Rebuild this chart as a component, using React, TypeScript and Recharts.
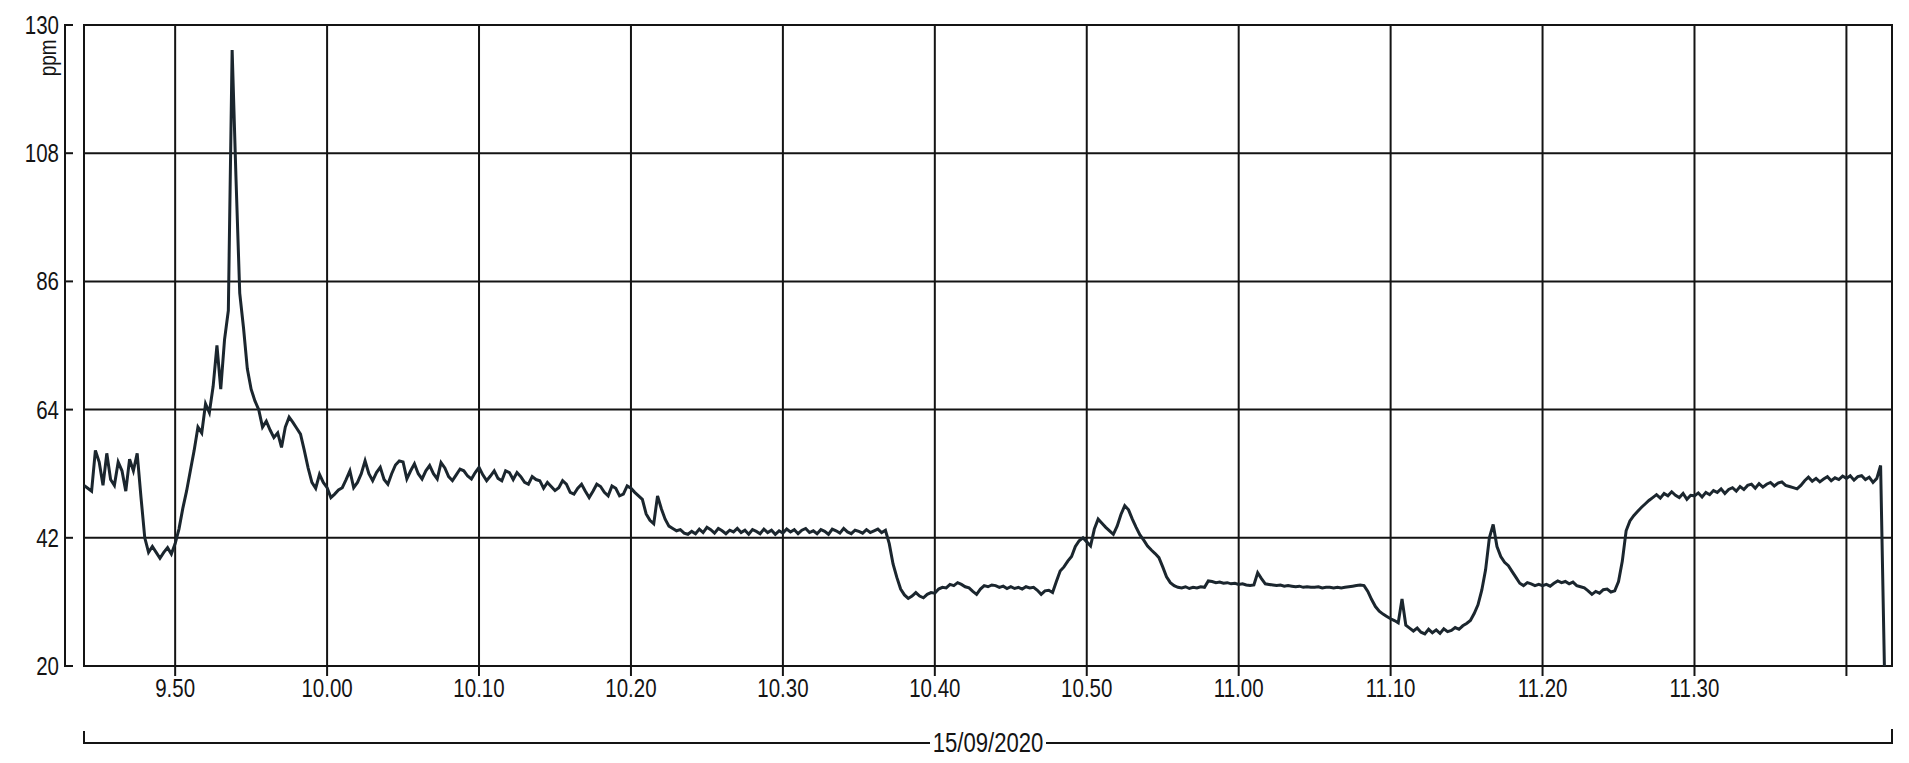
import React from 'react';
import { LineChart, Line, XAxis, YAxis, CartesianGrid, ReferenceArea } from 'recharts';

const FONT = "'Liberation Sans', Arial, sans-serif";
const INK = '#141414';
// the logger prints a condensed face: squeeze Liberation Sans horizontally
const SQUEEZE = 0.82;

// one reading every 15 s, each block starts at its own minute of the day
const STEP = 0.25;

const ppm0944 = [
  51, 50.5, 50, 57, 55, 51, 56.5, 52,
  51, 55, 53.5, 50, 55.5, 53.5, 56.5, 49,
  42, 39.5, 40.5, 39.5, 38.5, 39.5, 40.3, 39.2,
];
const ppm0950 = [
  41, 43.5, 47, 50, 53.5, 57, 61, 60,
  65, 63.5, 68, 75, 67.5, 76, 81, 125.7,
  104, 84, 78, 71, 67.5, 65.5, 64, 61,
  62, 60.5, 59.2, 60, 57.5, 61, 62.7, 61.8,
  60.8, 59.8, 57, 54, 51.5, 50.5, 52.9, 51.5,
];
const ppm1000 = [
  50.6, 48.9, 49.5, 50.2, 50.6, 52, 53.5, 50.6,
  51.5, 53, 55.2, 53, 51.8, 53.2, 54.1, 52,
  51.2, 53, 54.5, 55.2, 55, 52.1, 53.5, 54.7,
  53, 52.1, 53.5, 54.4, 53, 52.1, 54.9, 54,
  52.5, 51.8, 52.8, 53.8, 53.5, 52.6, 52.1, 53.2,
];
const ppm1010 = [
  54.1, 52.8, 51.8, 52.6, 53.5, 52.2, 51.8, 53.5,
  53.2, 52, 53.2, 52.5, 51.5, 51.2, 52.5, 52,
  51.8, 50.5, 51.5, 50.8, 50.1, 50.6, 51.8, 51.2,
  49.8, 49.5, 50.5, 51.2, 50, 48.9, 50, 51.2,
  50.8, 49.8, 49.2, 50.9, 50.5, 49.2, 49.5, 50.9,
];
const ppm1020 = [
  50.5, 49.8, 49.2, 48.6, 46.1, 45, 44.4, 49.2,
  47, 45.2, 44, 43.6, 43.2, 43.4, 42.8, 42.6,
  43.1, 42.7, 43.5, 42.9, 43.8, 43.4, 42.8, 43.6,
  43.2, 42.7, 43.3, 43, 43.6, 42.9, 43.3, 42.6,
  43.4, 43.1, 42.7, 43.5, 42.9, 43.3, 42.6, 43.2,
];
const ppm1030 = [
  42.8, 43.5, 43, 43.4, 42.7, 43.3, 43.6, 42.9,
  43.2, 42.7, 43.4, 43.1, 42.6, 43.5, 43.2, 42.8,
  43.6, 43, 42.7, 43.3, 43.1, 42.8, 43.4, 42.9,
  43.2, 43.5, 42.9, 43.3, 41, 37.5, 35.2, 33.2,
  32.2, 31.6, 32, 32.6, 32, 31.7, 32.3, 32.6,
];
const ppm1040 = [
  32.5, 33.2, 33.5, 33.4, 34, 33.8, 34.3, 34,
  33.6, 33.4, 32.8, 32.3, 33.2, 33.8, 33.6, 33.9,
  33.8, 33.5, 33.7, 33.3, 33.6, 33.3, 33.5, 33.2,
  33.6, 33.4, 33.5, 33, 32.3, 32.9, 33, 32.6,
  34.5, 36.3, 37, 38, 38.8, 40.5, 41.5, 42,
];
const ppm1050 = [
  41.3, 40.6, 43.5, 45.2, 44.5, 43.8, 43.2, 42.6,
  44, 46, 47.5, 46.8, 45.2, 43.8, 42.5, 41.6,
  40.6, 39.9, 39.3, 38.6, 37, 35.3, 34.3, 33.8,
  33.5, 33.4, 33.6, 33.3, 33.5, 33.4, 33.6, 33.5,
  34.6, 34.5, 34.3, 34.4, 34.2, 34.3, 34.1, 34.2,
];
const ppm1100 = [
  34, 34.1, 33.9, 33.8, 33.9, 36, 35, 34.1,
  34, 33.9, 33.8, 33.9, 33.7, 33.8, 33.7, 33.6,
  33.7, 33.5, 33.6, 33.5, 33.5, 33.6, 33.4, 33.5,
  33.5, 33.4, 33.5, 33.4, 33.5, 33.6, 33.7, 33.8,
  33.9, 33.8, 32.8, 31.4, 30.2, 29.4, 28.9, 28.5,
];
const ppm1110 = [
  28.1, 27.8, 27.4, 31.5, 27, 26.5, 26, 26.5,
  25.8, 25.5, 26.3, 25.7, 26.2, 25.6, 26.4, 25.9,
  26.1, 26.6, 26.3, 26.9, 27.3, 27.8, 29, 30.5,
  33, 36.5, 42, 44.3, 40.5, 38.8, 37.8, 37.2,
  36.2, 35.2, 34.2, 33.8, 34.3, 34.1, 33.8, 34,
];
const ppm1120 = [
  33.8, 34, 33.7, 34.2, 34.6, 34.3, 34.5, 34.1,
  34.4, 33.8, 33.6, 33.4, 32.9, 32.3, 32.8, 32.5,
  33.1, 33.2, 32.7, 32.9, 34.5, 38, 43.2, 44.9,
  45.8, 46.5, 47.2, 47.8, 48.4, 48.9, 49.4, 48.8,
  49.6, 49.2, 49.9, 49.3, 48.9, 49.6, 48.6, 49.3,
];
const ppm1130 = [
  49.2, 49.7, 49, 49.8, 49.4, 50.1, 49.8, 50.4,
  49.6, 50.3, 50.6, 50, 50.8, 50.3, 51, 51.2,
  50.5, 51.3, 50.7, 51.2, 51.5, 50.9, 51.4, 51.6,
  51, 50.8, 50.6, 50.4, 51, 51.8, 52.4, 51.7,
  52.2, 51.6, 52.1, 52.5, 51.8, 52.3, 52, 52.6,
  52.2, 52.65, 51.9, 52.5, 52.65, 52, 52.4, 51.5,
  52.2, 54.4, 20,
];

const blockStart = [584, 590, 600, 610, 620, 630, 640, 650, 660, 670, 680, 690];
const blocks = [
  ppm0944, ppm0950, ppm1000, ppm1010, ppm1020, ppm1030,
  ppm1040, ppm1050, ppm1100, ppm1110, ppm1120, ppm1130,
];

const xTicks = [590, 600, 610, 620, 630, 640, 650, 660, 670, 680, 690, 700];
const yTicks = [20, 42, 64, 86, 108, 130];
const dateLabel = '15/09/2020';

const readings = blocks.flatMap((values, b) =>
  values.map((ppm, i) => ({ minute: blockStart[b] + i * STEP, ppm }))
);

function clock(m: number) {
  if (m === 700) return '';
  const h = Math.floor(m / 60);
  const mm = m % 60;
  return `${h}.${mm < 10 ? '0' : ''}${mm}`;
}

function Narrow({ x, y, anchor, size = 25, children }: any) {
  return (
    <text
      transform={`translate(${x}, ${y}) scale(${SQUEEZE}, 1)`}
      textAnchor={anchor}
      fontSize={size}
      fontFamily={FONT}
      fill={INK}
      stroke="none"
    >
      {children}
    </text>
  );
}

function XTick({ x, payload }: any) {
  return <Narrow x={x} y={697} anchor="middle">{clock(payload.value)}</Narrow>;
}

function YTick({ y, payload }: any) {
  return (
    <g>
      <line x1={65} x2={73} y1={y} y2={y} stroke={INK} strokeWidth={2} />
      <Narrow x={59} y={y + 9} anchor="end">{payload.value}</Narrow>
    </g>
  );
}

function YAxisDecor({ viewBox }: any) {
  const { y, height } = viewBox;
  return (
    <g>
      <line x1={65} x2={65} y1={y - 1} y2={y + height + 1} stroke={INK} strokeWidth={2} />
      <text
        transform={`translate(56, 58) rotate(-90) scale(${SQUEEZE}, 1)`}
        textAnchor="middle"
        fontSize={23}
        fontFamily={FONT}
        fill={INK}
      >
        ppm
      </text>
    </g>
  );
}

function DateBracket({ viewBox }: any) {
  const { x, width } = viewBox;
  const cx = x + width / 2;
  const yLine = 743;
  return (
    <g fill="none" stroke={INK} strokeWidth={2}>
      <path d={`M${x},${yLine - 12} V${yLine} H${cx - 58}`} />
      <path d={`M${cx + 58},${yLine} H${x + width} V${yLine - 14}`} />
      <Narrow x={cx} y={yLine + 9} anchor="middle" size={27}>{dateLabel}</Narrow>
    </g>
  );
}

export default function App() {
  return (
    <div style={{ position: 'absolute', left: 0, top: 0, width: 1909, height: 763, background: '#fff' }}>
      <LineChart
        width={1909}
        height={763}
        data={readings}
        margin={{ top: 25, right: 17, left: 0, bottom: 0 }}
      >
        <CartesianGrid stroke={INK} strokeWidth={2} />
        <XAxis
          dataKey="minute"
          type="number"
          domain={[584, 703]}
          ticks={xTicks}
          allowDataOverflow
          height={97}
          axisLine={false}
          tickLine={{ stroke: INK, strokeWidth: 2 }}
          tickSize={10}
          tick={<XTick />}
          label={<DateBracket />}
        />
        <YAxis
          type="number"
          domain={[20, 130]}
          ticks={yTicks}
          width={84}
          axisLine={false}
          tickLine={false}
          tick={<YTick />}
          label={<YAxisDecor />}
        />
        <ReferenceArea
          x1={584}
          x2={703}
          y1={20}
          y2={130}
          fill="none"
          fillOpacity={0}
          stroke={INK}
          strokeWidth={2}
          ifOverflow="visible"
        />
        <Line
          type="linear"
          dataKey="ppm"
          stroke="#1b262e"
          strokeWidth={3}
          dot={false}
          isAnimationActive={false}
        />
      </LineChart>
    </div>
  );
}
